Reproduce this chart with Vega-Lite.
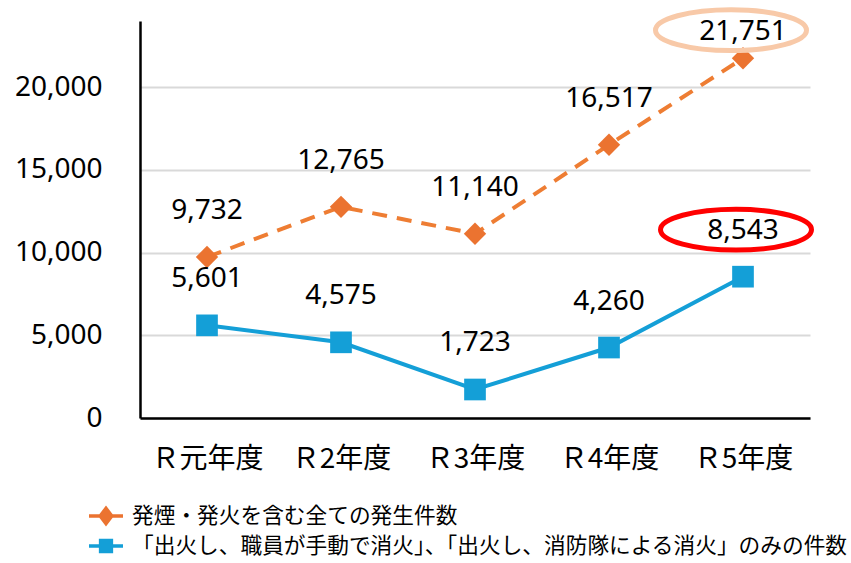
{
  "$schema": "https://vega.github.io/schema/vega-lite/v6.json",
  "width": 670,
  "height": 397,
  "autosize": {"type": "none"},
  "padding": {"left": 140, "top": 21, "right": 41, "bottom": 145},
  "background": "white",
  "config": {"view": {"stroke": null}, "font": "Noto Sans"},
  "data": {"values": [
    {"year": "Ｒ元年度", "series": "発煙・発火を含む全ての発生件数", "count": 9732},
    {"year": "Ｒ2年度", "series": "発煙・発火を含む全ての発生件数", "count": 12765},
    {"year": "Ｒ3年度", "series": "発煙・発火を含む全ての発生件数", "count": 11140},
    {"year": "Ｒ4年度", "series": "発煙・発火を含む全ての発生件数", "count": 16517},
    {"year": "Ｒ5年度", "series": "発煙・発火を含む全ての発生件数", "count": 21751},
    {"year": "Ｒ元年度", "series": "「出火し、職員が手動で消火」、「出火し、消防隊による消火」のみの件数", "count": 5601},
    {"year": "Ｒ2年度", "series": "「出火し、職員が手動で消火」、「出火し、消防隊による消火」のみの件数", "count": 4575},
    {"year": "Ｒ3年度", "series": "「出火し、職員が手動で消火」、「出火し、消防隊による消火」のみの件数", "count": 1723},
    {"year": "Ｒ4年度", "series": "「出火し、職員が手動で消火」、「出火し、消防隊による消火」のみの件数", "count": 4260},
    {"year": "Ｒ5年度", "series": "「出火し、職員が手動で消火」、「出火し、消防隊による消火」のみの件数", "count": 8543}
  ]},
  "encoding": {
    "x": {
      "field": "year", "type": "ordinal",
      "sort": ["Ｒ元年度", "Ｒ2年度", "Ｒ3年度", "Ｒ4年度", "Ｒ5年度"],
      "scale": {"type": "point", "padding": 0.5},
      "axis": {
        "title": null, "labelAngle": 0, "ticks": false, "grid": false,
        "domainColor": "#000000", "domainWidth": 2.5,
        "labelFont": "Noto Sans CJK JP", "labelFontSize": 28, "labelColor": "#000000",
        "labelPadding": 27
      }
    },
    "y": {
      "field": "count", "type": "quantitative",
      "scale": {"domain": [0, 24000], "nice": false},
      "axis": {
        "title": null, "values": [0, 5000, 10000, 15000, 20000],
        "labelExpr": "format(datum.value, ',')",
        "ticks": false, "domainColor": "#000000", "domainWidth": 2.5,
        "gridColor": "#D9D9D9", "gridWidth": 2,
        "labelFont": "Noto Sans", "labelFontSize": 28, "labelColor": "#000000",
        "labelPadding": 38
      }
    }
  },
  "layer": [
    {
      "transform": [{"filter": "datum.series === '発煙・発火を含む全ての発生件数'"}],
      "mark": {"type": "line", "color": "#EE7D33", "strokeWidth": 4, "strokeDash": [15, 10]}
    },
    {
      "transform": [{"filter": "datum.series !== '発煙・発火を含む全ての発生件数'"}],
      "mark": {"type": "line", "color": "#149FD7", "strokeWidth": 4}
    },
    {
      "transform": [{"filter": "datum.series === '発煙・発火を含む全ての発生件数'"}],
      "mark": {"type": "point", "shape": "diamond", "filled": true, "opacity": 1, "color": "#EB7330", "size": 500}
    },
    {
      "transform": [{"filter": "datum.series !== '発煙・発火を含む全ての発生件数'"}],
      "mark": {"type": "point", "shape": "square", "filled": true, "opacity": 1, "color": "#149FD7", "size": 470}
    },
    {
      "mark": {"type": "point", "filled": true, "opacity": 0},
      "encoding": {
        "color": {
          "field": "series", "type": "nominal",
          "scale": {
            "domain": ["発煙・発火を含む全ての発生件数", "「出火し、職員が手動で消火」、「出火し、消防隊による消火」のみの件数"],
            "range": ["#EB7330", "#149FD7"]
          },
          "legend": {
            "title": null, "orient": "none", "legendX": -52, "legendY": 477,
            "symbolSize": 1156, "symbolOpacity": 1,
            "labelFont": "Noto Sans CJK JP", "labelFontSize": 21.7, "labelColor": "#000000",
            "labelOffset": 8, "rowPadding": -2, "labelLimit": 0,
            "encode": {"symbols": {"update": {
              "fill": {"scale": "color", "field": "value"},
              "stroke": {"value": null},
              "opacity": {"value": 1}
            }}}
          }
        },
        "shape": {
          "field": "series", "type": "nominal",
          "scale": {
            "domain": ["発煙・発火を含む全ての発生件数", "「出火し、職員が手動で消火」、「出火し、消防隊による消火」のみの件数"],
            "range": ["M-1 -0.1 L1 -0.1 L1 0.1 L-1 0.1 Z M0 -0.62 L0.47 0 L0 0.62 L-0.47 0 Z", "M-1 -0.1 L1 -0.1 L1 0.1 L-1 0.1 Z M-0.42 -0.42 L0.42 -0.42 L0.42 0.42 L-0.42 0.42 Z"]
          }
        }
      }
    },
    {
      "transform": [{"filter": "datum.count !== 21751"}],
      "mark": {"type": "text", "fontSize": 28, "font": "Noto Sans", "color": "#000000", "dy": -46},
      "encoding": {"text": {"field": "count", "type": "quantitative", "format": ","}}
    },
    {
      "transform": [{"filter": "datum.count === 21751"}],
      "mark": {"type": "text", "fontSize": 28, "font": "Noto Sans", "color": "#000000", "dy": -26},
      "encoding": {"text": {"field": "count", "type": "quantitative", "format": ","}}
    },
    {
      "transform": [{"filter": "datum.count === 21751"}],
      "mark": {"type": "point", "shape": "M -1 0 A 1 0.27 0 1 1 1 0 A 1 0.27 0 1 1 -1 0 Z", "filled": false, "opacity": 1, "color": "#F8C9A8", "strokeWidth": 5, "size": 22801, "xOffset": -12, "yOffset": -28}
    },
    {
      "transform": [{"filter": "datum.count === 8543"}],
      "mark": {"type": "point", "shape": "M -1 0 A 1 0.27 0 1 1 1 0 A 1 0.27 0 1 1 -1 0 Z", "filled": false, "opacity": 1, "color": "#FF0000", "strokeWidth": 5, "size": 22801, "xOffset": -7, "yOffset": -47}
    }
  ]
}
